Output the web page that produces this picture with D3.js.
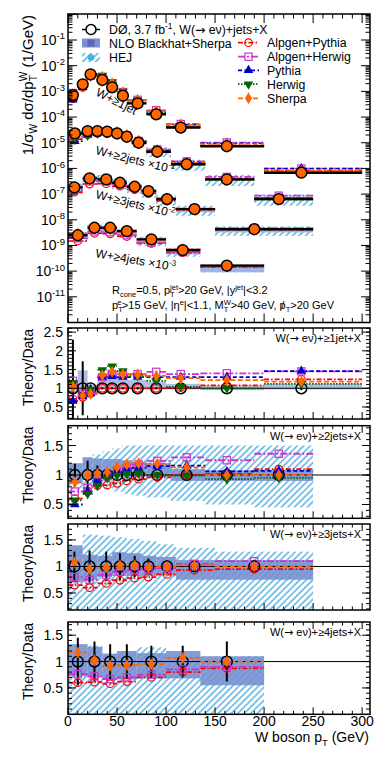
<!DOCTYPE html>
<html>
<head>
<meta charset="utf-8">
<script src="https://cdn.jsdelivr.net/npm/d3@7"></script>
<style>
  body { margin: 0; background: #fff; }
  svg text { font-family: "Liberation Sans", Arial, Helvetica, sans-serif; fill: #000; }
</style>
</head>
<body>
<svg id="chart" width="382" height="759"></svg>
<script>
// values (ratios are theory/data)

// W + >=1 jet
const edges1 = [0, 10, 20, 30, 40, 50, 60, 80, 100, 135, 200, 300];
const pt1 = [5, 15, 23, 35, 45, 56, 71, 90, 115, 162, 238];
const xs1 = [7.2e-4, 1.88e-3, 4.6e-3, 2.77e-3, 1.44e-3, 6.8e-4, 3.4e-4, 1.28e-4, 3.9e-5, 7.3e-6, 6.8e-7];
const err1 = [1.3, 0.72, 0.1, 0.03, 0.03, 0.03, 0.03, 0.03, 0.03, 0.04, 0.05];
const alpPy1 = [0.72, 0.76, 0.86, 1.0, 1.0, 1.0, 1.0, 1.0, 1.02, 1.08, 1.24];
const alpHw1 = [1.2, 0.85, 0.9, 1.3, 1.38, 1.38, 1.38, 1.44, 1.38, 1.4, 1.45];
const pythia1 = [0.66, 0.78, 0.86, 1.3, 1.32, 1.3, 1.3, 1.3, 1.3, 1.3, 1.46];
const herwig1 = [1.15, 0.8, 0.97, 1.49, 1.59, 1.46, 1.33, 1.2, 1.04, 1.0, 1.12];
const sherpa1 = [1.04, 0.8, 0.85, 1.35, 1.44, 1.37, 1.37, 1.33, 1.27, 1.22, 1.18];
const nloLo1 = [0.9, 0.78, 0.85, 1.02, 1.02, 1.02, 1.0, 0.98, 0.97, 0.95, 0.97];
const nloHi1 = [1.22, 1.48, 1.1, 1.35, 1.33, 1.3, 1.22, 1.18, 1.12, 1.08, 1.12];

// W + >=2 jets
const edges2 = [0, 15, 25, 35, 45, 55, 65, 80, 105, 140, 190, 250];
const pt2 = [7, 20, 30, 40, 50, 60, 72, 91, 121, 162, 215];
const xs2 = [2.3e-4, 2.85e-4, 2.85e-4, 2.7e-4, 2.3e-4, 1.71e-4, 1.0e-4, 4.45e-5, 1.45e-5, 3.74e-6, 6.4e-7];
const err2 = [0.19, 0.24, 0.16, 0.1, 0.06, 0.05, 0.05, 0.05, 0.07, 0.08, 0.1];
const alpPy2 = [0.6, 0.72, 0.82, 0.83, 0.86, 0.9, 0.93, 0.96, 1.0, 1.02, 1.1];
const alpHw2 = [0.72, 0.78, 0.9, 0.98, 1.05, 1.12, 1.18, 1.24, 1.3, 1.25, 1.36];
const pythia2 = [0.5, 0.72, 0.9, 1.0, 1.05, 1.1, 1.12, 1.15, 1.16, 1.06, 1.07];
const herwig2 = [0.57, 0.68, 0.82, 0.95, 0.99, 1.02, 1.03, 1.0, 0.99, 0.93, 0.95];
const sherpa2 = [0.88, 1.0, 1.02, 1.05, 1.13, 1.18, 1.2, 1.19, 1.13, 1.0, 1.0];
const nloLo2 = [0.85, 0.92, 0.93, 0.95, 0.97, 0.98, 0.98, 0.96, 0.9, 0.9, 0.9];
const nloHi2 = [1.2, 1.3, 1.28, 1.27, 1.27, 1.25, 1.22, 1.2, 1.1, 1.08, 1.08];
const hejLo2 = [0.75, 0.78, 0.8, 0.78, 0.72, 0.68, 0.65, 0.62, 0.56, 0.5, 0.45];
const hejHi2 = [1.1, 1.3, 1.35, 1.4, 1.45, 1.5, 1.5, 1.5, 1.5, 1.5, 1.5];

// W + >=3 jets
const edges3 = [0, 15, 30, 45, 60, 75, 90, 110, 150, 250];
const pt3 = [6.5, 22, 39, 53, 68, 82, 101, 129, 190];
const xs3 = [1.83e-5, 4.1e-5, 3.74e-5, 2.76e-5, 1.93e-5, 1.31e-5, 6.4e-6, 2.6e-6, 4.3e-7];
const err3 = [0.28, 0.3, 0.28, 0.25, 0.2, 0.15, 0.12, 0.1, 0.12];
const alpPy3 = [0.65, 0.6, 0.68, 0.74, 0.78, 0.8, 0.85, 0.93, 0.95];
const alpHw3 = [0.8, 0.75, 0.84, 0.9, 0.93, 0.95, 0.97, 1.05, 1.1];
const sherpa3 = [1.08, 0.95, 0.98, 1.02, 1.02, 0.98, 1.0, 1.02, 1.0];
const nloLo3 = [0.7, 0.75, 0.8, 0.82, 0.82, 0.82, 0.83, 0.75, 0.75];
const nloHi3 = [1.4, 1.22, 1.2, 1.27, 1.25, 1.2, 1.18, 1.12, 1.12];
const hejLo3 = [0.2, 0.15, 0.1, 0.1, 0.1, 0.1, 0.1, 0.1, 0.1];
const hejHi3 = [1.35, 1.6, 1.58, 1.55, 1.52, 1.48, 1.42, 1.35, 1.28];

// W + >=4 jets
const edges4 = [0, 20, 35, 50, 70, 100, 135, 200];
const pt4 = [10, 27, 43, 60, 85, 117, 162];
const xs4 = [2.5e-6, 4.9e-6, 4.9e-6, 3.6e-6, 1.72e-6, 6.6e-7, 1.64e-7];
const err4 = [0.45, 0.38, 0.33, 0.33, 0.3, 0.3, 0.38];
const alpPy4 = [0.6, 0.61, 0.58, 0.62, 0.7, 0.8, 0.87];
const alpHw4 = [0.76, 0.72, 0.67, 0.7, 0.75, 0.85, 0.9];
const sherpa4 = [1.17, 1.02, 0.92, 0.93, 0.95, 1.07, 1.0];
const nloLo4 = [0.72, 0.7, 0.65, 0.66, 0.68, 0.68, 0.55];
const nloHi4 = [1.33, 1.28, 1.15, 1.2, 1.16, 1.2, 1.1];
const hejLo4 = [0, 0, 0, 0, 0, 0, 0];
const hejHi4 = [1.2, 1.3, 1.15, 1.18, 1.27, 1.12, 1.1];

const scales = [1, 1e-1, 1e-2, 1e-3];
const jetLabels = ["≥1jet", "≥2jets", "≥3jets", "≥4jets"];

const multis = [
    {edges: edges1, pt: pt1, xs: xs1, err: err1, nloLo: nloLo1, nloHi: nloHi1, hejLo: null, hejHi: null,
        mc: {alpPy: alpPy1, alpHw: alpHw1, pythia: pythia1, herwig: herwig1, sherpa: sherpa1}},
    {edges: edges2, pt: pt2, xs: xs2, err: err2, nloLo: nloLo2, nloHi: nloHi2, hejLo: hejLo2, hejHi: hejHi2,
        mc: {alpPy: alpPy2, alpHw: alpHw2, pythia: pythia2, herwig: herwig2, sherpa: sherpa2}},
    {edges: edges3, pt: pt3, xs: xs3, err: err3, nloLo: nloLo3, nloHi: nloHi3, hejLo: hejLo3, hejHi: hejHi3,
        mc: {alpPy: alpPy3, alpHw: alpHw3, sherpa: sherpa3}},
    {edges: edges4, pt: pt4, xs: xs4, err: err4, nloLo: nloLo4, nloHi: nloHi4, hejLo: hejLo4, hejHi: hejHi4,
        mc: {alpPy: alpPy4, alpHw: alpHw4, sherpa: sherpa4}}
];

const mcOrder = ["alpPy", "alpHw", "pythia", "herwig", "sherpa"];
const mcStyle = {
    alpPy: {name: "Alpgen+Pythia", color: "#ff0000", dash: "5,2,1.5,2", sym: "circle"},
    alpHw: {name: "Alpgen+Herwig", color: "#cc33cc", dash: "7,2,2,2", sym: "square"},
    pythia: {name: "Pythia", color: "#0000cc", dash: "4,2.5", sym: "triUp"},
    herwig: {name: "Herwig", color: "#006600", dash: "1.5,1.5", sym: "triDown"},
    sherpa: {name: "Sherpa", color: "#ff6600", dash: "5,2.5", sym: "diamond"}
};
const nloColor = "#7891d2";
const hejColor = "#3fa6de";

// layout
const svg = d3.select("#chart");
const defs = svg.append("defs");
const x = d3.scaleLinear().domain([0, 308]).range([68, 370]);
const topBox = {top: 14, bottom: 322.5};
const yTop = d3.scaleLog().domain([1e-12, 1.03]).range([topBox.bottom, topBox.top]);
const ratioBoxes = [
    {top: 328, bottom: 419, domain: [0.18, 2.61]},
    {top: 425.7, bottom: 518.3, domain: [0.266, 1.836]},
    {top: 524, bottom: 610, domain: [0.18, 1.8]},
    {top: 622, bottom: 714.3, domain: [0, 1.75]}
];

const hatch = defs.append("pattern").attr("id", "hatch")
    .attr("patternUnits", "userSpaceOnUse").attr("width", 4.6).attr("height", 4.6)
    .attr("patternTransform", "rotate(45)");
hatch.append("line").attr("x1", 1).attr("x2", 1).attr("y1", 0).attr("y2", 4.6)
    .attr("stroke", hejColor).attr("stroke-width", 1.3);

// text with sub/superscripts; arrow glyph taken from DejaVu
function rich(t, parts, fs) {
    let shift = 0, pend = 0;
    const small = fs * 0.68, subY = fs * 0.28, supY = -fs * 0.4;
    const add = (s, dy, size) => {
        const sp = t.append("tspan").attr("dy", dy).attr("dx", pend).text(s);
        if (size) sp.attr("font-size", size);
        pend = 0;
        return sp;
    };
    parts.forEach(p => {
        if (typeof p === "string") { add(p, -shift); shift = 0; return; }
        const [kind, a, b] = p;
        if (kind === "sub") { add(a, subY - shift, small); shift = subY; }
        else if (kind === "sup") { add(a, supY - shift, small); shift = supY; }
        else if (kind === "font") { add(a, -shift).style("font-family", b); shift = 0; }
        else if (kind === "ss") {
            const s1 = add(a, subY - shift, small);
            const w = s1.node().getComputedTextLength();
            const s2 = add(b, supY - subY, small).attr("dx", -w);
            const w2 = s2.node().getComputedTextLength();
            if (w2 < w) pend = w - w2;
            shift = supY;
        } else if (kind === "over") {
            const s1 = add(a, -shift); shift = 0;
            const wp = s1.node().getComputedTextLength();
            const s2 = add(b, 0);
            const ws = s2.node().getComputedTextLength();
            s2.attr("dx", -(wp + ws) / 2);
            pend = (wp - ws) / 2;
        }
    });
}
const arrow = ["font", "→", "DejaVu Sans"];

function marker(g, key, cx, cy) {
    const st = mcStyle[key];
    if (st.sym === "circle") {
        g.append("circle").attr("cx", cx).attr("cy", cy).attr("r", 3.8)
            .attr("fill", "none").attr("stroke", st.color).attr("stroke-width", 1.2);
    } else if (st.sym === "square") {
        g.append("rect").attr("x", cx - 3.6).attr("y", cy - 3.6).attr("width", 7.2).attr("height", 7.2)
            .attr("fill", "none").attr("stroke", st.color).attr("stroke-width", 1.2);
    } else {
        const type = st.sym === "diamond" ? d3.symbolDiamond : d3.symbolTriangle;
        const size = st.sym === "diamond" ? 42 : 40;
        g.append("path").attr("d", d3.symbol().type(type).size(size)())
            .attr("transform", `translate(${cx},${cy})` + (st.sym === "triDown" ? " rotate(180)" : ""))
            .attr("fill", st.color);
    }
}

function clipFor(id, top, bottom) {
    defs.append("clipPath").attr("id", id).append("rect")
        .attr("x", x(0)).attr("y", top).attr("width", x(308) - x(0)).attr("height", bottom - top);
    return `url(#${id})`;
}

function xTicks(g, top, bottom, major, minor) {
    const vals = d3.range(0, 301, 10);
    const len = v => v % 50 === 0 ? major : minor;
    g.selectAll("line.xb").data(vals).join("line").attr("class", "xb")
        .attr("x1", d => x(d)).attr("x2", d => x(d)).attr("y1", bottom).attr("y2", d => bottom - len(d));
    g.selectAll("line.xt").data(vals).join("line").attr("class", "xt")
        .attr("x1", d => x(d)).attr("x2", d => x(d)).attr("y1", top).attr("y2", d => top + len(d));
}

function yTicks(g, y, vals, lenFn) {
    g.selectAll("line.yl").data(vals).join("line").attr("class", "yl")
        .attr("x1", x(0)).attr("x2", d => x(0) + lenFn(d)).attr("y1", d => y(d)).attr("y2", d => y(d));
    g.selectAll("line.yr").data(vals).join("line").attr("class", "yr")
        .attr("x1", x(308)).attr("x2", d => x(308) - lenFn(d)).attr("y1", d => y(d)).attr("y2", d => y(d));
}

// ---------------- top panel ----------------
const topG = svg.append("g");
const topBody = topG.append("g").attr("clip-path", clipFor("clipTop", topBox.top, topBox.bottom));

multis.forEach((m, k) => {
    const bins = d3.range(m.xs.length);
    const v = i => m.xs[i] * scales[k];
    const g = topBody.append("g");
    if (m.hejLo) {
        g.selectAll("rect.hej").data(bins).join("rect").attr("class", "hej")
            .attr("x", i => x(m.edges[i])).attr("width", i => x(m.edges[i + 1]) - x(m.edges[i]))
            .attr("y", i => yTop(v(i) * Math.min(m.hejHi[i], 1.5)))
            .attr("height", i => yTop(v(i) * Math.max(m.hejLo[i], 0.55)) - yTop(v(i) * Math.min(m.hejHi[i], 1.5)))
            .attr("fill", "url(#hatch)");
    }
    g.selectAll("rect.nlo").data(bins).join("rect").attr("class", "nlo")
        .attr("x", i => x(m.edges[i])).attr("width", i => x(m.edges[i + 1]) - x(m.edges[i]))
        .attr("y", i => yTop(v(i) * m.nloHi[i]))
        .attr("height", i => yTop(v(i) * m.nloLo[i]) - yTop(v(i) * m.nloHi[i]))
        .attr("fill", "#9fb3e6");
    mcOrder.forEach(key => {
        const r = m.mc[key];
        if (!r) return;
        g.selectAll("line." + key).data(bins).join("line").attr("class", key)
            .attr("x1", i => x(m.edges[i])).attr("x2", i => x(m.edges[i + 1]))
            .attr("y1", i => yTop(v(i) * r[i])).attr("y2", i => yTop(v(i) * r[i]))
            .attr("stroke", mcStyle[key].color).attr("stroke-width", 1.6)
            .attr("stroke-dasharray", mcStyle[key].dash);
    });
    g.selectAll("line.data").data(bins).join("line").attr("class", "data")
        .attr("x1", i => x(m.edges[i])).attr("x2", i => x(m.edges[i + 1]))
        .attr("y1", i => yTop(v(i))).attr("y2", i => yTop(v(i)))
        .attr("stroke", "#000").attr("stroke-width", 2.4);
    mcOrder.forEach(key => {
        const r = m.mc[key];
        if (!r) return;
        bins.forEach(i => marker(g, key, x(m.pt[i]), yTop(v(i) * r[i])));
    });
    g.selectAll("circle.data").data(bins).join("circle").attr("class", "data")
        .attr("cx", i => x(m.pt[i])).attr("cy", i => yTop(v(i))).attr("r", 5.4)
        .attr("fill", mcStyle.sherpa.color).attr("stroke", "#000").attr("stroke-width", 1.5);
});

// top frame, ticks, labels
const topAxes = topG.append("g").attr("stroke", "#000").attr("stroke-width", 1);
xTicks(topAxes, topBox.top, topBox.bottom, 9, 4.5);
const logMajor = d3.range(-12, 1).map(e => Math.pow(10, e));
const logMinor = [];
d3.range(-12, 0).forEach(e => d3.range(2, 10).forEach(mm => logMinor.push(mm * Math.pow(10, e))));
yTicks(topAxes.append("g"), yTop, logMajor.filter(d => d <= 1.03), () => 9);
yTicks(topAxes.append("g"), yTop, logMinor, () => 4.5);
topG.append("rect").attr("x", x(0)).attr("y", topBox.top).attr("width", x(308) - x(0))
    .attr("height", topBox.bottom - topBox.top).attr("fill", "none").attr("stroke", "#000").attr("stroke-width", 1.5);

d3.range(1, 12).forEach(e => {
    const t = topG.append("text").attr("x", 65).attr("y", yTop(Math.pow(10, -e)) + 5)
        .attr("text-anchor", "end").attr("font-size", 14);
    rich(t, ["10", ["sup", "-" + e]], 14);
});

const yLab = topG.append("text").attr("transform", "translate(33,15) rotate(-90)")
    .attr("text-anchor", "end").attr("font-size", 15);
rich(yLab, ["1/σ", ["sub", "W"], " dσ/dp", ["ss", "T", "W"], " (1/GeV)"], 15);

// legend
const leg = topG.append("g");
leg.append("line").attr("x1", 82).attr("x2", 100).attr("y1", 29.5).attr("y2", 29.5).attr("stroke", "#000").attr("stroke-width", 1.5);
leg.append("circle").attr("cx", 91).attr("cy", 29.5).attr("r", 5).attr("fill", "#fff").attr("stroke", "#000").attr("stroke-width", 1.5);
rich(leg.append("text").attr("x", 109).attr("y", 34).attr("font-size", 12.3),
    ["DØ, 3.7 fb", ["sup", "-1"], ", W(", arrow, " eν)+jets+X"], 12.3);
leg.append("rect").attr("x", 82).attr("y", 38.5).attr("width", 18).attr("height", 9).attr("fill", nloColor);
leg.append("rect").attr("x", 87.5).attr("y", 39.5).attr("width", 7).attr("height", 7).attr("fill", "#5a68ad");
leg.append("text").attr("x", 109).attr("y", 47.5).attr("font-size", 12.3).text("NLO Blackhat+Sherpa");
leg.append("rect").attr("x", 82).attr("y", 53).attr("width", 18).attr("height", 9).attr("fill", "url(#hatch)");
leg.append("circle").attr("cx", 91).attr("cy", 57.5).attr("r", 3.3).attr("fill", "#36b6ee");
leg.append("text").attr("x", 109).attr("y", 62).attr("font-size", 12.3).text("HEJ");
const legY = [42.7, 56.7, 70.3, 84.2, 98.3];
mcOrder.forEach((key, i) => {
    const st = mcStyle[key];
    leg.append("line").attr("x1", 238).attr("x2", 259).attr("y1", legY[i]).attr("y2", legY[i])
        .attr("stroke", st.color).attr("stroke-width", 1.8).attr("stroke-dasharray", st.dash);
    marker(leg, key, 248.5, legY[i]);
    leg.append("text").attr("x", 267).attr("y", legY[i] + 4.5).attr("font-size", 12.3).text(st.name);
});

// curve annotations
const annot = [
    {x: 95, y: 95, rot: 27, sup: null},
    {x: 95, y: 154, rot: 14, sup: "-1"},
    {x: 95, y: 198, rot: 14, sup: "-2"},
    {x: 95, y: 257, rot: 10, sup: "-3"}
];
annot.forEach((a, k) => {
    const t = topG.append("text").attr("transform", `translate(${a.x},${a.y}) rotate(${a.rot})`).attr("font-size", 12);
    const parts = ["W+" + jetLabels[k]];
    if (a.sup) parts.push(" ×10", ["sup", a.sup]);
    rich(t, parts, 12);
});
rich(topG.append("text").attr("x", 112).attr("y", 294).attr("font-size", 11),
    ["R", ["sub", "cone"], "=0.5, p", ["ss", "T", "jet"], ">20 GeV, |y", ["sup", "jet"], "|<3.2"], 11);
rich(topG.append("text").attr("x", 112).attr("y", 309).attr("font-size", 11),
    ["p", ["ss", "T", "e"], ">15 GeV, |η", ["sup", "e"], "|<1.1, M", ["ss", "T", "W"], ">40 GeV, ", ["over", "p", "/"], ["sub", "T"], ">20 GeV"], 11);

// ---------------- ratio panels ----------------
multis.forEach((m, k) => {
    const box = ratioBoxes[k];
    const y = d3.scaleLinear().domain(box.domain).range([box.bottom, box.top]);
    const bins = d3.range(m.xs.length);
    const g = svg.append("g");
    const body = g.append("g").attr("clip-path", clipFor("clipR" + k, box.top, box.bottom));

    if (m.hejLo) {
        body.selectAll("rect.hej").data(bins).join("rect").attr("class", "hej")
            .attr("x", i => x(m.edges[i])).attr("width", i => x(m.edges[i + 1]) - x(m.edges[i]))
            .attr("y", i => y(m.hejHi[i])).attr("height", i => y(m.hejLo[i]) - y(m.hejHi[i]))
            .attr("fill", "url(#hatch)");
    }
    body.selectAll("rect.nlo").data(bins).join("rect").attr("class", "nlo")
        .attr("x", i => x(m.edges[i])).attr("width", i => x(m.edges[i + 1]) - x(m.edges[i]))
        .attr("y", i => y(m.nloHi[i])).attr("height", i => y(m.nloLo[i]) - y(m.nloHi[i]))
        .attr("fill", nloColor).attr("fill-opacity", k === 0 ? 0.6 : 0.9);
    body.append("line").attr("x1", x(0)).attr("x2", x(308)).attr("y1", y(1)).attr("y2", y(1))
        .attr("stroke", "#000").attr("stroke-width", 1);

    mcOrder.forEach(key => {
        const r = m.mc[key];
        if (!r) return;
        body.selectAll("line." + key).data(bins).join("line").attr("class", key)
            .attr("x1", i => x(m.edges[i])).attr("x2", i => x(m.edges[i + 1]))
            .attr("y1", i => y(r[i])).attr("y2", i => y(r[i]))
            .attr("stroke", mcStyle[key].color).attr("stroke-width", 1.8)
            .attr("stroke-dasharray", mcStyle[key].dash);
    });
    body.selectAll("line.err").data(bins).join("line").attr("class", "err")
        .attr("x1", i => x(m.pt[i])).attr("x2", i => x(m.pt[i]))
        .attr("y1", i => y(1 + m.err[i])).attr("y2", i => y(1 - m.err[i]))
        .attr("stroke", "#000").attr("stroke-width", 2);
    body.selectAll("circle.data").data(bins).join("circle").attr("class", "data")
        .attr("cx", i => x(m.pt[i])).attr("cy", y(1)).attr("r", 5.4)
        .attr("fill", "none").attr("stroke", "#000").attr("stroke-width", 1.5);
    mcOrder.forEach(key => {
        const r = m.mc[key];
        if (!r) return;
        bins.forEach(i => marker(body, key, x(m.pt[i]), y(r[i])));
    });

    const axes = g.append("g").attr("stroke", "#000").attr("stroke-width", 1);
    xTicks(axes, box.top, box.bottom, 7, 3.5);
    const major = d3.range(0, 6).map(i => i * 0.5).filter(d => d > box.domain[0] && d < box.domain[1]);
    const minor = d3.range(0, 27).map(i => i / 10).filter(d => d > box.domain[0] && d < box.domain[1]);
    yTicks(axes.append("g"), y, major, () => 8);
    yTicks(axes.append("g"), y, minor, () => 4);
    g.append("rect").attr("x", x(0)).attr("y", box.top).attr("width", x(308) - x(0))
        .attr("height", box.bottom - box.top).attr("fill", "none").attr("stroke", "#000").attr("stroke-width", 1.5);

    g.selectAll("text.tick").data(major.filter(d => d > 0)).join("text").attr("class", "tick")
        .attr("x", 63).attr("y", d => y(d) + 5).attr("text-anchor", "end").attr("font-size", 14)
        .text(d => d3.format("")(d));
    g.append("text").attr("transform", `translate(33,${box.top + 1}) rotate(-90)`)
        .attr("text-anchor", "end").attr("font-size", 14).text("Theory/Data");
    rich(g.append("text").attr("x", 361).attr("y", box.top + 14).attr("text-anchor", "end").attr("font-size", 11),
        ["W(", arrow, " eν)+" + jetLabels[k] + "+X"], 11);
});

// x axis labels on the bottom panel
const lastBox = ratioBoxes[3];
svg.selectAll("text.xtick").data(d3.range(0, 301, 50)).join("text").attr("class", "xtick")
    .attr("x", d => x(d)).attr("y", lastBox.bottom + 12).attr("text-anchor", "middle").attr("font-size", 14)
    .text(d => d);
rich(svg.append("text").attr("x", 369).attr("y", 742).attr("text-anchor", "end").attr("font-size", 14),
    ["W boson p", ["sub", "T"], " (GeV)"], 14);
</script>
</body>
</html>
